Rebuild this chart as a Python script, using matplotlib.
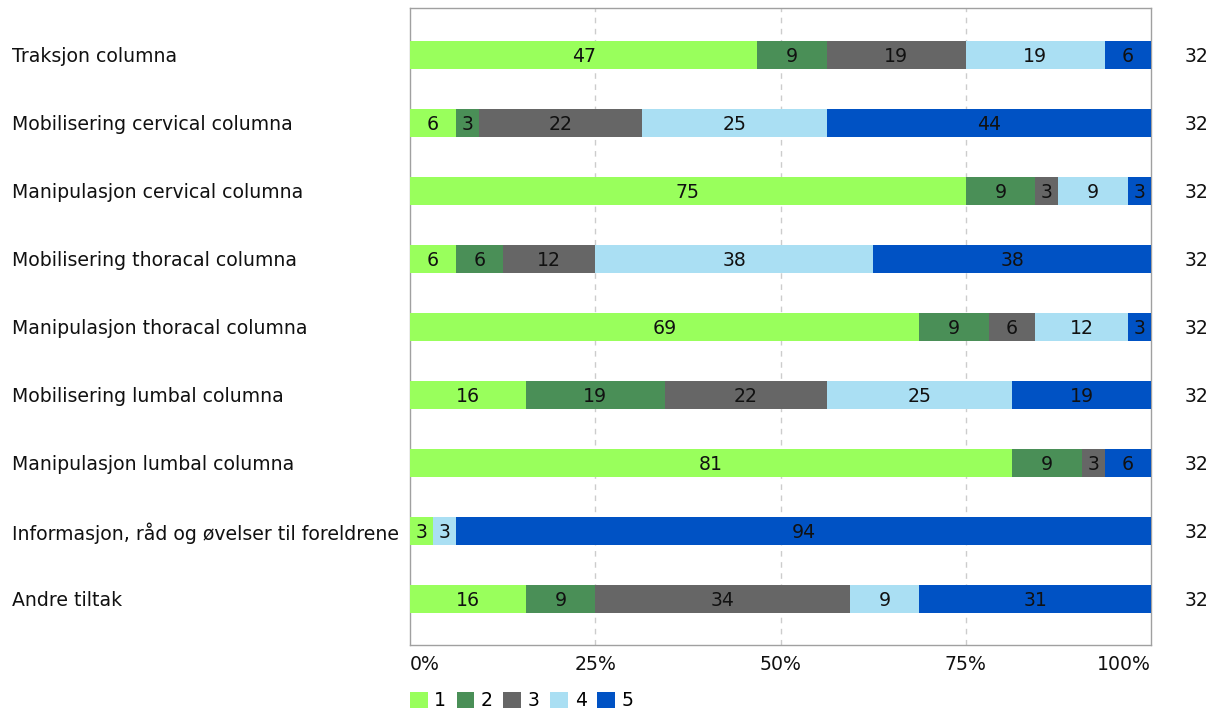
import matplotlib
matplotlib.use("Agg")
import matplotlib.pyplot as plt
import matplotlib.transforms as mtransforms
from matplotlib.patches import Patch
import numpy as np

plt.rcParams["font.family"] = ["DejaVu Sans"]

categories = [
    "Traksjon columna",
    "Mobilisering cervical columna",
    "Manipulasjon cervical columna",
    "Mobilisering thoracal columna",
    "Manipulasjon thoracal columna",
    "Mobilisering lumbal columna",
    "Manipulasjon lumbal columna",
    "Informasjon, råd og øvelser til foreldrene",
    "Andre tiltak",
]

# answer counts per score (1..5), n = 32 each
score_1 = [15, 2, 24, 2, 22, 5, 26, 1, 5]
score_2 = [3, 1, 3, 2, 3, 6, 3, 0, 3]
score_3 = [6, 7, 1, 4, 2, 7, 1, 0, 11]
score_4 = [6, 8, 3, 12, 4, 8, 0, 1, 3]
score_5 = [2, 14, 1, 12, 1, 6, 2, 30, 10]

series_names = ["1", "2", "3", "4", "5"]
colors = ["#99ff5c", "#4a8f57", "#666666", "#aadff3", "#0052c4"]
tick_labels = ["0%", "25%", "50%", "75%", "100%"]

FS = 13.6

counts = np.array([score_1, score_2, score_3, score_4, score_5], dtype=float)
totals = counts.sum(axis=0)
pct = counts / totals * 100

fig = plt.figure(figsize=(12.15, 7.13), dpi=100)
ax = fig.add_axes([410 / 1215, 1 - 645 / 713, 741 / 1215, 637 / 713])

y = np.arange(len(categories))
left = np.zeros(len(categories))
for i, name in enumerate(series_names):
    ax.barh(y, pct[i], left=left, height=0.41, color=colors[i], label=name, zorder=3)
    for j in range(len(categories)):
        if counts[i, j] > 0:
            ax.text(left[j] + pct[i, j] / 2, y[j], f"{round(pct[i, j]):d}",
                    ha="center", va="center_baseline", fontsize=FS, color="#111111", zorder=4)
    left += pct[i]

ax.set_xlim(0, 100)
ax.set_ylim(len(categories) - 1 + 0.68, -0.69)

# category labels, left aligned at the figure edge
ax.set_yticks([])
lab_tr = mtransforms.blended_transform_factory(fig.transFigure, ax.transData)
for j, cat in enumerate(categories):
    ax.text(12 / 1215, y[j], cat, transform=lab_tr, ha="left", va="center_baseline",
            fontsize=FS, color="#111111")

ax.tick_params(axis="x", length=0, pad=7, labelsize=FS, labelcolor="#111111")
ax.set_xticks([0, 25, 50, 75, 100])
ax.set_xticklabels(tick_labels)
xt = ax.get_xticklabels()
xt[0].set_ha("left")
xt[-1].set_ha("right")

for tick in [25, 50, 75]:
    ax.axvline(tick, color="#cccccc", linestyle=(0, (4, 4)), linewidth=1, zorder=1)

for s in ax.spines.values():
    s.set_color("#a0a0a0")
    s.set_linewidth(1)

# n per row on the right
for j in range(len(categories)):
    ax.text(1.0615, y[j], f"{int(totals[j])}", transform=ax.get_yaxis_transform(),
            ha="center", va="center_baseline", fontsize=FS, color="#111111")

handles = [Patch(facecolor=c, edgecolor="none") for c in colors]
fig.legend(handles, series_names, loc="center left",
           bbox_to_anchor=(402 / 1215, 1 - 701 / 713), borderaxespad=0,
           ncol=5, frameon=False, fontsize=FS, handlelength=0.95, handleheight=0.95,
           handletextpad=0.35, columnspacing=0.55)

fig.savefig("out.png", dpi=100)
